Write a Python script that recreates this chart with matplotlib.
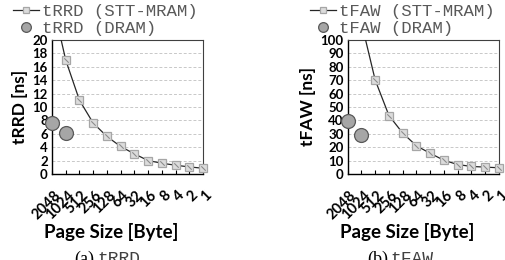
import numpy as np
import matplotlib
matplotlib.use("Agg")
import matplotlib.pyplot as plt
from matplotlib.transforms import ScaledTranslation

pages = ['2048', '1024', '512', '256', '128', '64', '32', '16', '8', '4', '2', '1']
trrd_stt = [26, 17.0, 11.0, 7.6, 5.6, 4.1, 3.0, 2.0, 1.6, 1.3, 1.05, 0.85]
trrd_dram = [7.6, 6.1]
tfaw_stt = [200, 113, 70.1, 43.6, 30.5, 21.0, 15.4, 10.2, 7.0, 5.6, 5.1, 4.6]
tfaw_dram = [39.8, 29.1]

body_font = 'Lato'
mono_font = 'Liberation Mono'

fig = plt.figure(figsize=(5.05, 2.6), dpi=100)


def panel(rect, legx, capx, stt, dram, name, ymax, ystep, caption):
    ax = fig.add_axes(rect)
    x = np.arange(len(pages))
    stt = np.array(stt, dtype=float)
    ax.plot(x, stt, color='#262626', lw=0.9, zorder=3)
    shown = np.where(stt <= ymax, stt, np.nan)
    ax.plot(x, shown, ls='none', marker='s', ms=6, mfc='#dcdcdc', mec='#a6a6a6',
            mew=0.9, clip_on=False, zorder=4)
    ax.plot(x, shown, ls='none', marker=(2, 0, 45), ms=4.5, mec='#8c8c8c',
            mew=0.8, clip_on=False, zorder=5)
    ax.plot(x[:len(dram)], dram, ls='none', marker='o', ms=10, mfc='#a6a6a6',
            mec='#595959', mew=0.9, clip_on=False, zorder=6)

    ax.set_xlim(0, len(pages) - 1)
    ax.set_ylim(0, ymax)
    ax.set_yticks(np.arange(0, ymax + 1, ystep))
    ax.set_xticks(x)
    ax.tick_params(axis='y', length=0, pad=3)
    ax.tick_params(axis='x', direction='in', length=3, pad=7)
    ax.set_xticklabels(pages, rotation=45, ha='right', va='top',
                       rotation_mode='anchor', fontsize=10.5, fontweight='bold',
                       family=body_font)
    shift = ScaledTranslation(1 / 72, -3 / 72, fig.dpi_scale_trans)
    for lab in ax.get_xticklabels():
        lab.set_transform(lab.get_transform() + shift)
    for lab in ax.get_yticklabels():
        lab.set_fontsize(9.5)
        lab.set_fontweight('bold')
        lab.set_family(body_font)
    ax.yaxis.grid(True, ls=(0, (3, 2)), color='#c8c8c8', lw=0.7)
    ax.set_axisbelow(True)
    for s in ['top', 'right']:
        ax.spines[s].set_color('#404040')
        ax.spines[s].set_linewidth(0.8)
    ax.spines['left'].set_linewidth(1.0)
    ax.spines['bottom'].set_linewidth(1.0)

    ax.set_ylabel(name + ' [ns]', fontsize=12.5, fontweight='bold', family=body_font,
                  labelpad=3)
    ax.set_xlabel('Page Size [Byte]', fontsize=13.5, fontweight='bold',
                  family=body_font)
    ax.xaxis.set_label_coords(0.395, -0.37)

    # legend handles
    h1, = ax.plot([], [], color='#262626', lw=0.9, marker='s', ms=5, mfc='#dcdcdc',
                  mec='#a6a6a6', mew=0.9)
    h2, = ax.plot([], [], ls='none', marker='o', ms=7, mfc='#a6a6a6',
                  mec='#595959', mew=0.9)
    leg = ax.legend([h1, h2], [name + ' (STT-MRAM)', name + ' (DRAM)'],
                    loc='upper left', bbox_to_anchor=(legx, 0.985),
                    bbox_transform=fig.transFigure, frameon=False,
                    prop={'family': mono_font, 'size': 12.5},
                    handlelength=1.5, handletextpad=0.15, labelspacing=0.12,
                    borderpad=0, borderaxespad=0)
    for t in leg.get_texts():
        t.set_color('#595959')

    fig.text(capx, 0.035, caption, family='Liberation Serif', fontsize=13,
             ha='right', va='top')
    fig.text(capx + 0.006, 0.035, name, family=mono_font, fontsize=13,
             ha='left', va='top', color='#404040')
    return ax


panel([0.103, 0.331, 0.299, 0.515], 0.026, 0.186, trrd_stt, trrd_dram,
      'tRRD', 20, 2, '(a)')
panel([0.6885, 0.331, 0.2996, 0.515], 0.614, 0.768, tfaw_stt, tfaw_dram,
      'tFAW', 100, 10, '(b)')

fig.savefig('out.png', dpi=100)
